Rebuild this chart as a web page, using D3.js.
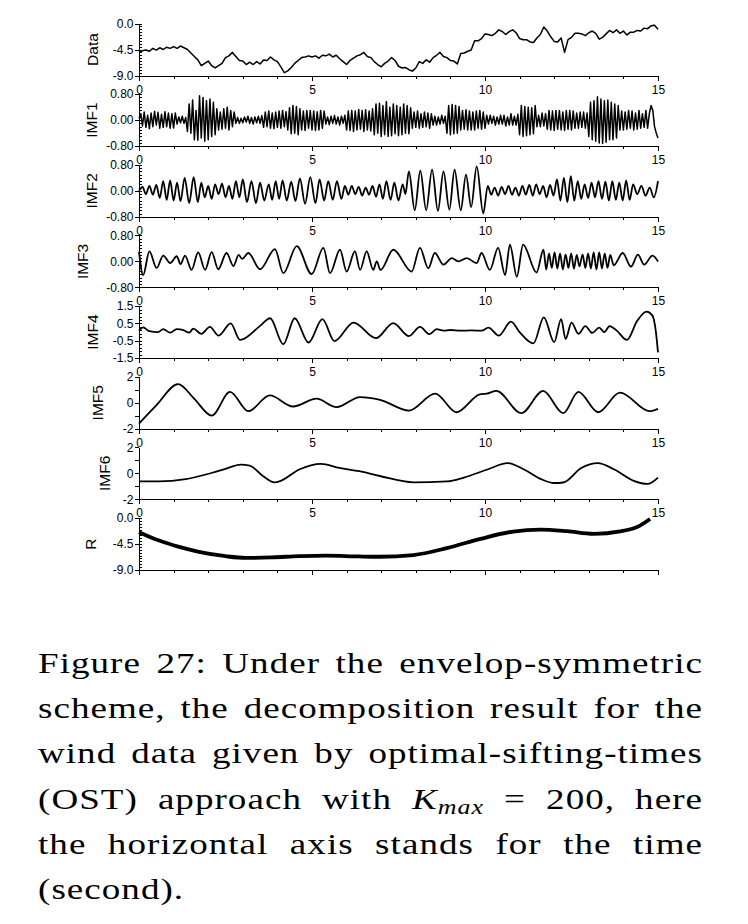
<!DOCTYPE html>
<html>
<head>
<meta charset="utf-8">
<script src="https://cdn.jsdelivr.net/npm/d3@7"></script>
<style>
body { margin: 0; background: #fff; }
svg { display: block; }
</style>
</head>
<body>
<svg width="748" height="924"></svg>
<script>
// Time axis (seconds)
var xTicks = [0, 5, 10, 15];

// Wind data, read every 0.1 s
var dataStep = 0.1;
var dataValues = [
    -5.0, -4.7, -4.6, -4.8, -4.3, -4.6, -4.2, -4.5, -4.1, -4.3,
    -4.0, -4.3, -3.9, -4.2, -4.5, -5.1, -5.7, -6.3, -7.3, -6.9,
    -6.5, -7.3, -7.7, -7.3, -6.9, -5.9, -5.6, -5.0, -5.7, -6.4,
    -6.5, -7.1, -6.7, -7.1, -6.6, -7.0, -6.3, -6.4, -5.8, -6.3,
    -6.6, -7.5, -8.5, -8.2, -7.6, -6.9, -6.4, -5.9, -5.8, -5.6,
    -5.8, -5.6, -6.0, -5.5, -5.6, -5.3, -5.8, -5.5, -6.1, -6.6,
    -7.1, -6.4, -6.0, -5.6, -5.4, -5.0, -5.7, -5.9, -6.6, -7.1,
    -7.5, -6.9, -6.5, -5.9, -6.4, -7.4, -7.7, -7.6, -8.0, -8.25,
    -7.7, -6.6, -6.9, -6.3, -6.7, -5.9, -5.5, -5.0, -5.7, -5.9,
    -6.4, -6.5, -7.0, -5.2, -5.1, -4.8, -4.6, -3.0, -3.0, -2.6,
    -1.8, -1.9, -2.1, -1.7, -1.1, -1.4, -1.9, -1.4, -1.1, -1.6,
    -2.6, -2.8, -2.8, -3.2, -3.3, -2.5, -1.9, -0.6, -1.3, -2.3,
    -3.1, -3.2, -2.5, -5.0, -2.8, -2.4, -1.7, -1.7, -1.8, -2.1,
    -1.6, -1.3, -1.7, -2.7, -2.4, -1.8, -1.2, -1.6, -1.1, -1.7,
    -1.3, -2.0, -1.5, -1.5, -1.2, -1.3, -0.8, -0.9, -0.4, -0.3,
    -1.0
];

// IMF1, read every 0.05 s (one row per second)
var imf1Step = 0.05;
var imf1Values = [
    0.05, 0.2, -0.18, 0.25, -0.22, 0.15, -0.26, 0.22, -0.2, 0.27, -0.15, 0.24, -0.25, 0.18, -0.22, 0.26, -0.2, 0.22, -0.25, 0.2,
    -0.24, 0.22, -0.12, 0.1, -0.08, 0.12, -0.1, 0.08, -0.35, 0.5, -0.4, 0.62, -0.6, 0.3, -0.62, 0.75, -0.55, 0.7, -0.65, 0.6,
    -0.6, 0.65, -0.5, 0.55, -0.45, 0.35, -0.3, 0.25, -0.28, 0.35, -0.25, 0.4, -0.3, 0.3, -0.2, 0.25, -0.1, 0.08, -0.1, 0.06,
    -0.08, 0.1, -0.06, 0.12, -0.1, 0.08, -0.12, 0.1, -0.08, 0.12, -0.1, 0.14, -0.22, 0.25, -0.2, 0.28, -0.25, 0.22, -0.26, 0.25,
    -0.22, 0.28, -0.25, 0.3, -0.2, 0.26, -0.3, 0.38, -0.42, 0.45, -0.4, 0.42, -0.45, 0.35, -0.3, 0.28, -0.32, 0.3, -0.25, 0.3,
    -0.3, 0.28, -0.32, 0.26, -0.3, 0.3, -0.25, 0.28, -0.12, 0.1, -0.14, 0.12, -0.1, 0.14, -0.12, 0.1, -0.15, 0.12, -0.1, 0.15,
    -0.3, 0.28, -0.32, 0.3, -0.35, 0.28, -0.3, 0.33, -0.28, 0.3, -0.35, 0.32, -0.3, 0.28, -0.33, 0.35, -0.45, 0.5, -0.4, 0.52,
    -0.5, 0.45, -0.45, 0.57, -0.5, 0.4, -0.48, 0.5, -0.42, 0.45, -0.48, 0.4, -0.45, 0.5, -0.4, 0.45, -0.42, 0.38, -0.25, 0.25,
    -0.22, 0.28, -0.25, 0.2, -0.22, 0.25, -0.2, 0.22, -0.25, 0.2, -0.15, 0.12, -0.15, 0.1, -0.12, 0.15, -0.1, 0.12, -0.4, 0.45,
    -0.45, 0.48, -0.42, 0.45, -0.4, 0.42, -0.3, 0.3, -0.28, 0.32, -0.3, 0.28, -0.3, 0.25, -0.3, 0.28, -0.25, 0.3, -0.28, 0.25,
    -0.25, 0.15, -0.12, 0.15, -0.1, 0.12, -0.15, 0.1, -0.12, 0.15, -0.12, 0.15, -0.18, 0.1, -0.15, 0.2, -0.15, 0.12, -0.15, 0.18,
    -0.45, 0.45, -0.5, 0.42, -0.48, 0.4, -0.45, 0.38, -0.42, 0.45, -0.2, 0.15, -0.2, 0.22, -0.18, 0.2, -0.28, 0.3, -0.3, 0.28,
    -0.32, 0.3, -0.28, 0.3, -0.3, 0.25, -0.32, 0.3, -0.28, 0.3, -0.3, 0.28, -0.25, 0.22, -0.25, 0.25, -0.22, 0.25, -0.25, 0.22,
    -0.5, 0.55, -0.6, 0.6, -0.65, 0.72, -0.7, 0.65, -0.72, 0.6, -0.68, 0.62, -0.6, 0.55, -0.6, 0.5, -0.55, 0.45, -0.3, 0.28,
    -0.3, 0.25, -0.28, 0.3, -0.25, 0.28, -0.3, 0.22, -0.28, 0.3, -0.25, 0.2, -0.22, 0.3, -0.25, 0.2, 0.45, 0.3, -0.2, -0.4,
    -0.55
];

// Slower modes: [time, value] at the turning points of each curve
var imf2Points = [
    [0, 0], [0.1, 0.12], [0.2, -0.1], [0.3, 0.15], [0.4, -0.12], [0.5, 0.18], [0.6, -0.22],
    [0.7, 0.3], [0.8, -0.28], [0.9, 0.32], [1.0, -0.3], [1.1, 0.25], [1.2, -0.32], [1.32, 0.4],
    [1.45, -0.38], [1.58, 0.42], [1.7, -0.35], [1.8, 0.25], [1.9, -0.2], [2.0, 0.15], [2.1, -0.25],
    [2.2, 0.2], [2.3, -0.1], [2.4, 0.22], [2.5, -0.2], [2.6, 0.15], [2.7, -0.25], [2.8, 0.3],
    [2.9, -0.2], [3.0, 0.35], [3.12, -0.35], [3.25, 0.3], [3.38, -0.38], [3.5, 0.25], [3.62, -0.3],
    [3.75, 0.2], [3.85, -0.28], [3.95, 0.3], [4.05, -0.25], [4.15, 0.32], [4.27, -0.3], [4.4, 0.28],
    [4.52, -0.32], [4.65, 0.38], [4.8, -0.4], [4.95, 0.42], [5.1, -0.38], [5.22, 0.35], [5.35, -0.3],
    [5.47, 0.3], [5.6, -0.28], [5.72, 0.3], [5.85, -0.25], [5.95, 0.15], [6.05, -0.12], [6.15, 0.15],
    [6.25, -0.1], [6.35, 0.12], [6.45, -0.15], [6.55, 0.1], [6.65, -0.12], [6.75, 0.15], [6.85, -0.18],
    [6.95, 0.2], [7.05, -0.25], [7.15, 0.3], [7.27, -0.28], [7.38, 0.25], [7.5, -0.3], [7.62, 0.2],
    [7.7, -0.1], [7.8, 0.6], [7.97, -0.6], [8.13, 0.62], [8.3, -0.6], [8.47, 0.65], [8.64, -0.62],
    [8.8, 0.6], [8.97, -0.58], [9.12, 0.65], [9.3, -0.6], [9.45, 0.5], [9.6, -0.5], [9.76, 0.75],
    [9.95, -0.7], [10.08, 0.15], [10.18, -0.12], [10.28, 0.1], [10.38, -0.15], [10.48, 0.12],
    [10.58, -0.1], [10.68, 0.15], [10.78, -0.12], [10.88, 0.1], [10.98, -0.15], [11.08, 0.15],
    [11.18, -0.12], [11.28, 0.18], [11.38, -0.15], [11.48, 0.2], [11.58, -0.1], [11.68, 0.15],
    [11.78, -0.2], [11.88, 0.18], [11.98, -0.15], [12.08, 0.35], [12.18, -0.3], [12.28, 0.4],
    [12.38, -0.35], [12.48, 0.45], [12.58, -0.3], [12.68, 0.3], [12.78, -0.25], [12.88, 0.2],
    [12.98, -0.22], [13.08, 0.25], [13.18, -0.2], [13.28, 0.3], [13.38, -0.25], [13.48, 0.28],
    [13.58, -0.3], [13.68, 0.3], [13.78, -0.28], [13.88, 0.25], [13.98, -0.3], [14.08, 0.32],
    [14.18, -0.28], [14.28, 0.2], [14.4, -0.1], [14.52, 0.15], [14.64, -0.15], [14.76, 0.1],
    [14.88, -0.2], [15, 0.3]
];

var imf3Points = [
    [0, 0.3], [0.12, -0.42], [0.3, 0.31], [0.51, -0.2], [0.7, 0.18], [0.9, -0.05], [1.09, 0.16],
    [1.2, -0.08], [1.33, 0.18], [1.52, -0.26], [1.71, 0.28], [1.91, -0.26], [2.1, 0.29], [2.29, -0.24],
    [2.53, 0.26], [2.73, -0.14], [2.88, 0.2], [2.98, 0.08], [3.16, 0.26], [3.5, -0.24], [3.93, 0.38],
    [4.17, -0.36], [4.56, 0.47], [4.99, -0.39], [5.33, 0.42], [5.52, -0.36], [5.81, 0.36], [6.0, -0.31],
    [6.24, 0.31], [6.39, -0.26], [6.58, 0.31], [6.77, -0.26], [6.87, 0.0], [6.98, -0.26], [7.35, 0.36],
    [7.88, -0.31], [8.12, 0.42], [8.36, -0.21], [8.55, 0.26], [8.8, -0.1], [9.04, 0.1], [9.23, 0.0],
    [9.47, 0.1], [9.76, -0.05], [9.9, 0.26], [10.14, -0.26], [10.38, 0.42], [10.58, -0.42], [10.72, 0.52],
    [10.92, -0.47], [11.1, 0.52], [11.49, -0.34], [11.69, 0.36], [11.77, -0.25], [11.85, 0.25],
    [11.93, -0.2], [12.01, 0.28], [12.09, -0.22], [12.17, 0.25], [12.25, -0.25], [12.33, 0.22],
    [12.41, -0.2], [12.49, 0.25], [12.57, -0.22], [12.65, 0.2], [12.73, -0.15], [12.82, 0.22],
    [12.9, -0.2], [12.98, 0.25], [13.06, -0.22], [13.14, 0.28], [13.22, -0.25], [13.3, 0.28],
    [13.38, -0.22], [13.46, 0.25], [13.54, -0.2], [13.62, 0.2], [13.72, -0.12], [13.98, 0.26],
    [14.22, -0.16], [14.42, 0.21], [14.6, -0.1], [14.84, 0.18], [15, 0.0]
];

var imf4Points = [
    [0, 0.07], [0.12, 0.27], [0.3, 0.05], [0.55, 0.0], [0.7, 0.17], [0.9, -0.03], [1.09, 0.17],
    [1.3, 0.1], [1.45, -0.03], [1.57, 0.2], [1.8, -0.1], [2.05, 0.3], [2.3, -0.2], [2.65, 0.5],
    [2.92, -0.45], [3.5, 0.36], [3.79, 0.8], [4.17, -0.7], [4.5, 0.8], [4.9, -0.6], [5.3, 0.75],
    [5.65, -0.52], [6.2, 0.55], [6.85, -0.35], [7.35, 0.52], [7.8, -0.23], [8.12, 0.3], [8.4, -0.12],
    [8.6, 0.17], [8.8, 0.08], [9.0, 0.12], [9.3, 0.08], [9.6, 0.1], [9.9, 0.08], [10.1, 0.26],
    [10.4, -0.2], [10.75, 0.6], [11.0, 0.0], [11.4, -0.65], [11.7, 0.85], [12.0, -0.58], [12.2, 0.75],
    [12.33, -0.4], [12.5, 0.55], [12.7, -0.1], [12.9, 0.35], [13.1, -0.05], [13.3, 0.26], [13.45, 0.0],
    [13.6, 0.35], [13.8, 0.1], [14.1, -0.45], [14.4, 0.65], [14.67, 1.18], [14.84, 0.95], [14.94, 0.0],
    [15, -1.17]
];

var imf5Points = [
    [0, -1.6], [0.5, -0.2], [1.13, 1.43], [1.6, 0.3], [2.1, -0.99], [2.63, 0.83], [3.16, -0.65],
    [3.78, 0.57], [4.45, -0.29], [5.13, 0.31], [5.71, -0.34], [6.39, 0.44], [6.97, 0.23], [7.8, -0.6],
    [8.56, 0.7], [9.18, -0.73], [9.85, 0.65], [10.05, 0.7], [10.33, 0.91], [11.05, -0.8], [11.68, 0.91],
    [12.26, -0.8], [12.7, 0.83], [13.27, -0.73], [13.9, 0.78], [14.76, -0.65], [15, -0.47]
];

var imf6Points = [
    [0, -0.62], [0.58, -0.62], [1.35, -0.44], [2.12, 0.05], [2.5, 0.35], [2.94, 0.67], [3.2, 0.6],
    [3.58, -0.2], [3.92, -0.69], [4.1, -0.57], [4.63, 0.3], [5.26, 0.74], [5.79, 0.42], [6.37, 0.17],
    [6.96, -0.2], [7.93, -0.69], [8.9, -0.62], [9.39, -0.32], [10.07, 0.3], [10.65, 0.79], [11.13, 0.3],
    [11.62, -0.44], [12.0, -0.74], [12.26, -0.7], [12.78, 0.42], [13.26, 0.79], [13.74, 0.3],
    [14.3, -0.57], [14.7, -0.81], [15, -0.32]
];

// Residue
var rPoints = [
    [0, -2.45], [0.58, -3.9], [1.16, -5.0], [1.73, -5.85], [2.5, -6.6], [3.08, -6.9], [3.85, -6.8],
    [4.63, -6.6], [5.4, -6.5], [6.36, -6.65], [6.94, -6.7], [7.93, -6.4], [8.9, -5.2], [9.87, -3.6],
    [10.82, -2.33], [11.6, -2.0], [12.37, -2.27], [13.14, -2.73], [13.91, -2.3], [14.48, -1.3],
    [14.77, -0.17]
];

var panelNames = ['Data', 'IMF1', 'IMF2', 'IMF3', 'IMF4', 'IMF5', 'IMF6', 'R'];
var yDomains = [[-9, 0], [-0.8, 0.8], [-0.8, 0.8], [-0.8, 0.8], [-1.5, 1.5], [-2, 2], [-2, 2], [-9, 0]];
var yMajorTicks = [[0, -4.5, -9], [0.8, 0, -0.8], [0.8, 0, -0.8], [0.8, 0, -0.8],
                   [1.5, 0.5, -0.5, -1.5], [2, 0, -2], [2, 0, -2], [0, -4.5, -9]];
var yMinorSteps = [0.5, 0.1, 0.1, 0.1, 0.2, 1, 1, 0.5];
var yFormats = ['.1f', '.2f', '.2f', '.2f', '.1f', 'd', 'd', '.1f'];

var captionLines = [
    'Figure 27: Under the envelop-symmetric',
    'scheme, the decomposition result for the',
    'wind data given by optimal-sifting-times',
    '(OST) approach with K_max = 200, here',
    'the horizontal axis stands for the time',
    '(second).'
];

var Chart = {
    opts : {
        left : 139, right : 658,
        top : 23.5, step : 70.65, height : 52,
        labelX : [97.5, 97, 97, 87.5, 97.5, 103, 110, 95.5], // baseline of the rotated names
        strokes : [1.5, 1.5, 1.8, 1.8, 1.8, 1.8, 1.8, 3.8],
        font : 'Liberation Sans, Arial, sans-serif',
        caption : { x: 38, width: 665, top: 673, lead: 45.2, size: 28.5, stretch: 1.3, tracking: 0.8 }
    },
    locale : d3.formatLocale({decimal: '.', thousands: ',', grouping: [3], currency: ['', ''], minus: '-'}),
    series : function(i) {
        if (i === 0) return dataValues.map(function(v, k) { return [k * dataStep, v]; });
        if (i === 1) return imf1Values.map(function(v, k) { return [k * imf1Step, v]; });
        return [null, null, imf2Points, imf3Points, imf4Points, imf5Points, imf6Points, rPoints][i];
    },
    panel : function(svg, i) {
        var o = Chart.opts;
        var top = o.top + i * o.step, bottom = top + o.height;
        var x = d3.scaleLinear().domain([0, 15]).range([o.left, o.right]);
        var y = d3.scaleLinear().domain(yDomains[i]).range([bottom, top]);
        var g = svg.append('g');

        // time axis: minor ticks each second, labels under all but the last panel
        g.append('g')
            .attr('transform', 'translate(0,' + bottom + ')')
            .call(d3.axisBottom(x).tickValues(d3.range(0, 16)).tickSize(3).tickSizeOuter(0).tickFormat(''));
        var major = d3.axisBottom(x).tickValues(xTicks).tickSize(5).tickSizeOuter(0).tickPadding(4.5);
        if (i === panelNames.length - 1) major.tickFormat('');
        g.append('g')
            .attr('transform', 'translate(0,' + bottom + ')')
            .call(major)
            .attr('font-family', o.font).attr('font-size', 12);

        // value axis
        var dom = yDomains[i], ms = yMinorSteps[i];
        var minor = d3.range(dom[0], dom[1] + ms / 2, ms);
        var minorAxis = ms < 1 ? d3.axisRight(y) : d3.axisLeft(y);
        g.append('g')
            .attr('transform', 'translate(' + o.left + ',0)')
            .call(minorAxis.tickValues(minor).tickSize(ms < 1 ? 3 : 4).tickSizeOuter(0).tickFormat(''));
        g.append('g')
            .attr('transform', 'translate(' + o.left + ',0)')
            .call(d3.axisLeft(y).tickValues(yMajorTicks[i]).tickSize(4).tickSizeOuter(0)
                  .tickPadding(1.5).tickFormat(Chart.locale.format(yFormats[i])))
            .attr('font-family', o.font).attr('font-size', 12);

        g.selectAll('.domain, .tick line').attr('shape-rendering', 'crispEdges');

        g.append('text')
            .attr('transform', 'translate(' + o.labelX[i] + ',' + (top + o.height / 2) + ') rotate(-90)')
            .attr('text-anchor', 'middle')
            .attr('font-family', o.font)
            .attr('font-size', 15.5)
            .text(panelNames[i]);

        var line = d3.line()
            .x(function(d) { return x(d[0]); })
            .y(function(d) { return y(d[1]); })
            .curve(i < 2 ? d3.curveLinear : d3.curveMonotoneX);
        g.append('path')
            .datum(Chart.series(i))
            .attr('d', line)
            .attr('fill', 'none')
            .attr('stroke', '#000')
            .attr('stroke-width', o.strokes[i])
            .attr('stroke-linejoin', 'round');
    },
    caption : function(svg) {
        var c = Chart.opts.caption;
        captionLines.forEach(function(s, k) {
            var t = svg.append('text')
                .attr('transform', 'translate(' + c.x + ',' + (c.top + k * c.lead) + ') scale(' + c.stretch + ',1)')
                .attr('font-family', "'Liberation Serif', 'Times New Roman', serif")
                .attr('font-size', c.size)
                .attr('letter-spacing', c.tracking)
                .attr('fill', '#000');
            var parts = s.split('K_max');
            if (parts.length > 1) {
                // K_max set as math
                t.append('tspan').text(parts[0]);
                t.append('tspan').attr('font-style', 'italic').text('K');
                t.append('tspan').attr('font-style', 'italic').attr('font-size', c.size * 0.7).attr('dy', 5).text('max');
                t.append('tspan').attr('dy', -5).text(parts[1]);
            } else {
                t.text(s);
            }
            if (k < captionLines.length - 1) {
                var n = (t.text().match(/ /g) || []).length;
                var w = t.node().getBBox().width;
                t.attr('word-spacing', (c.width / c.stretch - w) / n);
            }
        });
    },
    draw : function() {
        var svg = d3.select('svg');
        svg.append('rect').attr('width', 748).attr('height', 924).attr('fill', '#fff');
        panelNames.forEach(function(name, i) { Chart.panel(svg, i); });
        Chart.caption(svg);
    }
};

Chart.draw();
</script>
</body>
</html>
